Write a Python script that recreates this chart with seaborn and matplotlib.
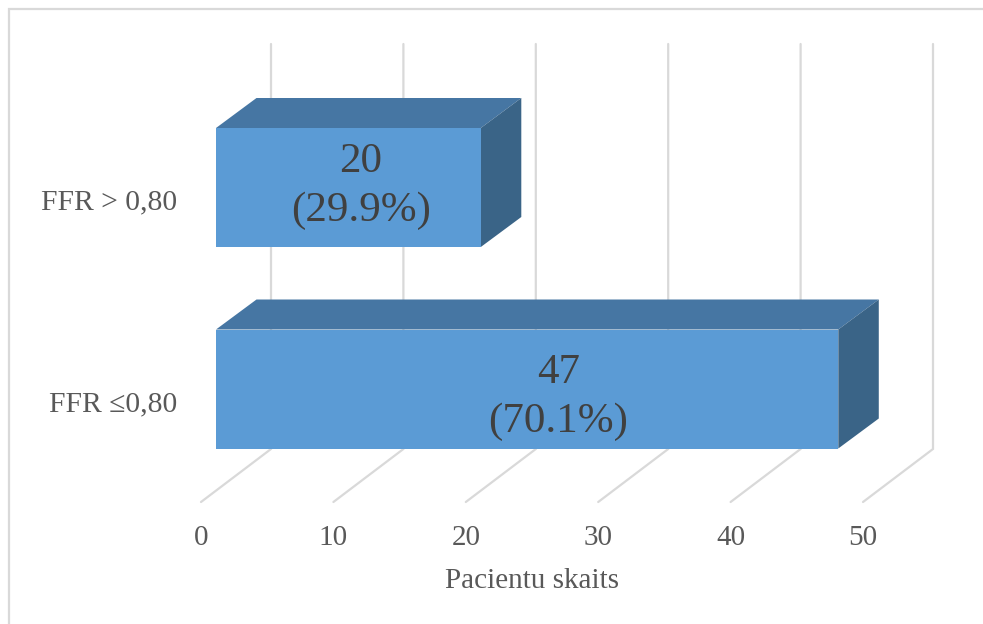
import numpy as np
import pandas as pd
import seaborn as sns
import matplotlib
matplotlib.use("Agg")
import matplotlib.pyplot as plt
from matplotlib.lines import Line2D
from matplotlib.patches import Polygon
from matplotlib.transforms import ScaledTranslation

categories = ["FFR > 0,80", "FFR \u22640,80"]
patients = [20, 47]
shares = ["29.9%", "70.1%"]
ticks = [0, 10, 20, 30, 40, 50]
axis_title = "Pacientu skaits"

FRONT = "#5B9BD5"
TOP = "#4676A3"
SIDE = "#3A6487"
GRID = "#D9D9D9"
TEXT = "#595959"
LABEL = "#404040"

W, H = 983, 624
sns.set_theme(style="white")
plt.rcParams["font.family"] = ["Liberation Serif", "DejaVu Serif"]

fig = plt.figure(figsize=(W / 100, H / 100), dpi=100, facecolor="white")

# Axes box in pixels, with the value and category scales derived from it
left, right, top, bottom = 201, 932, 44, 502
ax = fig.add_axes([left / W, 1 - bottom / H, (right - left) / W, (bottom - top) / H])
px_per_value = 13.24
px_per_cat = 201.5
y0_px = 187.5
xlim = ((left - 216) / px_per_value, (right - 216) / px_per_value)
ylim = ((bottom - y0_px) / px_per_cat, (top - y0_px) / px_per_cat)

# Oblique projection offsets: bar depth, and the floor/wall of the box
bar_dx, bar_dy = 40.5 / px_per_value, 30 / px_per_cat
wall_dx = 55 / px_per_value
floor_dx = -15 / px_per_value
floor_y = (502 - y0_px) / px_per_cat
wall_y = (449 - y0_px) / px_per_cat
top_y = (44 - y0_px) / px_per_cat
bar_width = 119 / px_per_cat

# Gridlines run across the floor, then up the back wall
for t in ticks:
    ax.plot([t + floor_dx, t + wall_dx, t + wall_dx], [floor_y, wall_y, top_y],
            color=GRID, lw=1.6, clip_on=False, zorder=1, solid_joinstyle="miter")

df = pd.DataFrame({"category": categories, "patients": patients})
sns.barplot(data=df, x="patients", y="category", order=categories, color=FRONT,
            saturation=1, width=bar_width, ax=ax, zorder=4, linewidth=0)
ax.set_xlim(*xlim)
ax.set_ylim(*ylim)

# Value labels sit a little off the bar centre, pushed toward the depth side
label_shift_x = [12.5 / px_per_value, 31 / px_per_value]
label_shift_y = [-1.5 / px_per_cat, 8 / px_per_cat]
for i, (v, share) in enumerate(zip(patients, shares)):
    hi, lo = i - bar_width / 2, i + bar_width / 2
    ax.add_patch(Polygon([(0, hi), (bar_dx, hi - bar_dy), (v + bar_dx, hi - bar_dy), (v, hi)],
                         facecolor=TOP, edgecolor="none", zorder=3, clip_on=False))
    ax.add_patch(Polygon([(v, hi), (v + bar_dx, hi - bar_dy), (v + bar_dx, lo - bar_dy), (v, lo)],
                         facecolor=SIDE, edgecolor="none", zorder=3, clip_on=False))
    ax.text(v / 2 + label_shift_x[i], i + label_shift_y[i], f"{v}\n({share})",
            ha="center", va="center", fontsize=31, color=LABEL, linespacing=1.36, zorder=5)

ax.set_xticks([t + floor_dx for t in ticks], [str(t) for t in ticks])
ax.set_yticks(range(len(categories)), categories)
ax.tick_params(axis="x", length=0, pad=16.5, labelsize=21, labelcolor=TEXT)
ax.tick_params(axis="y", length=0, pad=17, labelsize=21.3, labelcolor=TEXT)
ax.set_xlabel("")
ax.set_ylabel("")
sns.despine(ax=ax, left=True, bottom=True)
ax.patch.set_alpha(0)

# Category labels hang slightly below the bar centres
drop = ScaledTranslation(0, -12 / 100, fig.dpi_scale_trans)
for lab in ax.get_yticklabels():
    lab.set_transform(lab.get_transform() + drop)

fig.text(532 / W, 1 - 581 / H, axis_title, ha="center", va="center",
         fontsize=21, color=TEXT)

# Chart-area border along the top and left edges
border_x, border_y = 9 / W, 1 - 9 / H
fig.add_artist(Line2D([border_x, border_x, 1], [0, border_y, border_y],
                      transform=fig.transFigure, color=GRID, lw=1.6,
                      solid_joinstyle="miter"))

fig.savefig("out.png", dpi=100)
